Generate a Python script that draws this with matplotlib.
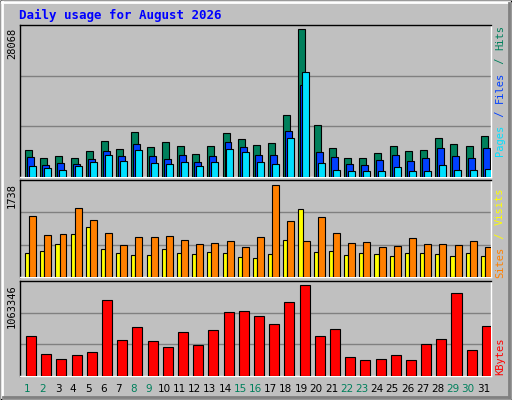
import matplotlib
matplotlib.use("Agg")
import matplotlib.pyplot as plt
from matplotlib.patches import Rectangle

days = list(range(1, 32))
weekend = [1, 2, 8, 9, 15, 16, 22, 23, 29, 30]
hits = [5184,3667,4046,3667,4994,6891,5373,8597,5753,6701,5942,4425,5942,8408,7270,6132,6511,11821,28068,9925,5563,3667,3667,4615,5942,4994,5184,7459,6322,5942,7839]
files = [3856,2339,2718,2529,3477,4994,4046,6322,4046,3477,4236,2908,4046,6701,5753,4236,4236,8787,17511,4804,3856,2529,2339,3287,4236,3098,3667,5563,4046,3667,5563]
pages = [2149,1770,1391,2149,2908,4236,3098,5184,2718,2529,2908,2149,2908,5373,4804,2908,2529,7459,19976,2718,1391,1201,1201,1201,1960,1201,1201,2339,1391,1391,1580]
visits = [1142,797,816,1305,1079,834,609,759,759,778,703,627,646,684,571,759,1738,1060,684,1136,834,646,665,571,590,740,627,627,609,684,571]
sites = [458,496,627,816,947,533,458,420,420,533,458,439,477,458,383,364,439,703,1286,477,496,420,458,439,402,458,458,439,402,458,402]
kbytes = [469577,260014,201802,248371,283298,888703,423007,574358,411365,341510,516146,364795,539431,748994,760637,702425,609286,865418,1063346,469577,551074,225086,190159,201802,248371,190159,376438,434650,970200,306583,585997]

W, H = 512, 400
fig = plt.figure(figsize=(W/100, H/100), dpi=100)
fig.patch.set_facecolor("#C0C0C0")
bg = fig.add_axes([0, 0, 1, 1]); bg.set_axis_off(); bg.set_xlim(0, W); bg.set_ylim(H, 0)
bg.plot([0.5, W-0.5, W-0.5, 0.5, 0.5], [0.5, 0.5, H-0.5, H-0.5, 0.5], color="black", lw=1)
bg.plot([2, W-3], [2, 2], color="white", lw=2); bg.plot([2, 2], [2, H-3], color="white", lw=2)
bg.plot([3, W-3], [H-3, H-3], color="#808080", lw=2); bg.plot([W-3, W-3], [3, H-3], color="#808080", lw=2)

mono = "DejaVu Sans Mono"
fig.text(19/W, 1-15/H, "Daily usage for August 2026", color="#0000FF", family=mono,
         weight="bold", fontsize=9, va="center", ha="left")

def panel(top, bottom, ymax):
    ax = fig.add_axes([20/W, 1-bottom/H, 471/W, (bottom-top)/H])
    ax.set_facecolor("#C0C0C0")
    ax.set_xlim(0, 31); ax.set_ylim(0, ymax)
    ax.set_xticks([]); ax.set_yticks([])
    for y in (ymax/3, 2*ymax/3):
        ax.axhline(y, color="#808080", lw=1, zorder=0)
    for s in ax.spines.values():
        s.set_color("black"); s.set_linewidth(1)
    ax.spines["bottom"].set_color("white"); ax.spines["right"].set_color("white")
    return ax

def bars(ax, vals, off, w, col):
    ax.bar([d-1+off for d in days], vals, width=w, align="edge", color=col,
           edgecolor="black", linewidth=0.8, zorder=3)

ax1 = panel(25, 177, 28068*152/148)
bars(ax1, hits, 0.33, 0.46, "#00805C")
bars(ax1, files, 0.46, 0.46, "#0040FF")
bars(ax1, pages, 0.59, 0.46, "#00E0FF")

ax2 = panel(180, 277, 1738*97/92.3)
bars(ax2, sites, 0.33, 0.27, "#FFFF00")
bars(ax2, visits, 0.60, 0.46, "#FF8000")

ax3 = panel(281, 376, 1063346*95/91.3)
bars(ax3, kbytes, 0.40, 0.66, "#FF0000")

for ax, lab, top in ((ax1, "28068", 25), (ax2, "1738", 180), (ax3, "1063346", 281)):
    fig.text(12/W, 1-(top+3)/H, lab, rotation=90, family=mono, fontsize=7.5,
             ha="center", va="top", color="black")

def rlabel(parts, ycen):
    # parts from bottom to top
    txt_total = sum(len(p) for p, c in parts)
    cw = 6.6
    y = ycen + txt_total*cw/2
    for p, c in parts:
        fig.text(500/W, 1-y/H, p, rotation=90, family=mono, fontsize=7.5,
                 color=c, ha="center", va="bottom")
        y -= len(p)*cw

rlabel([("Pages", "#00E0FF"), (" / ", "#0040FF"), ("Files", "#0040FF"), (" / ", "#00805C"), ("Hits", "#00805C")], 90)
rlabel([("Sites", "#FF8000"), (" / ", "#FFFF00"), ("Visits", "#FFFF00")], 232)
rlabel([("KBytes", "#FF0000")], 355)

for d in days:
    x = 20 + 471*(d-0.5)/31
    fig.text(x/W, 1-389/H, str(d), ha="center", va="center", fontsize=7.5,
             color="#00805C" if d in weekend else "black")

fig.savefig("out.png", dpi=100, facecolor=fig.get_facecolor())
